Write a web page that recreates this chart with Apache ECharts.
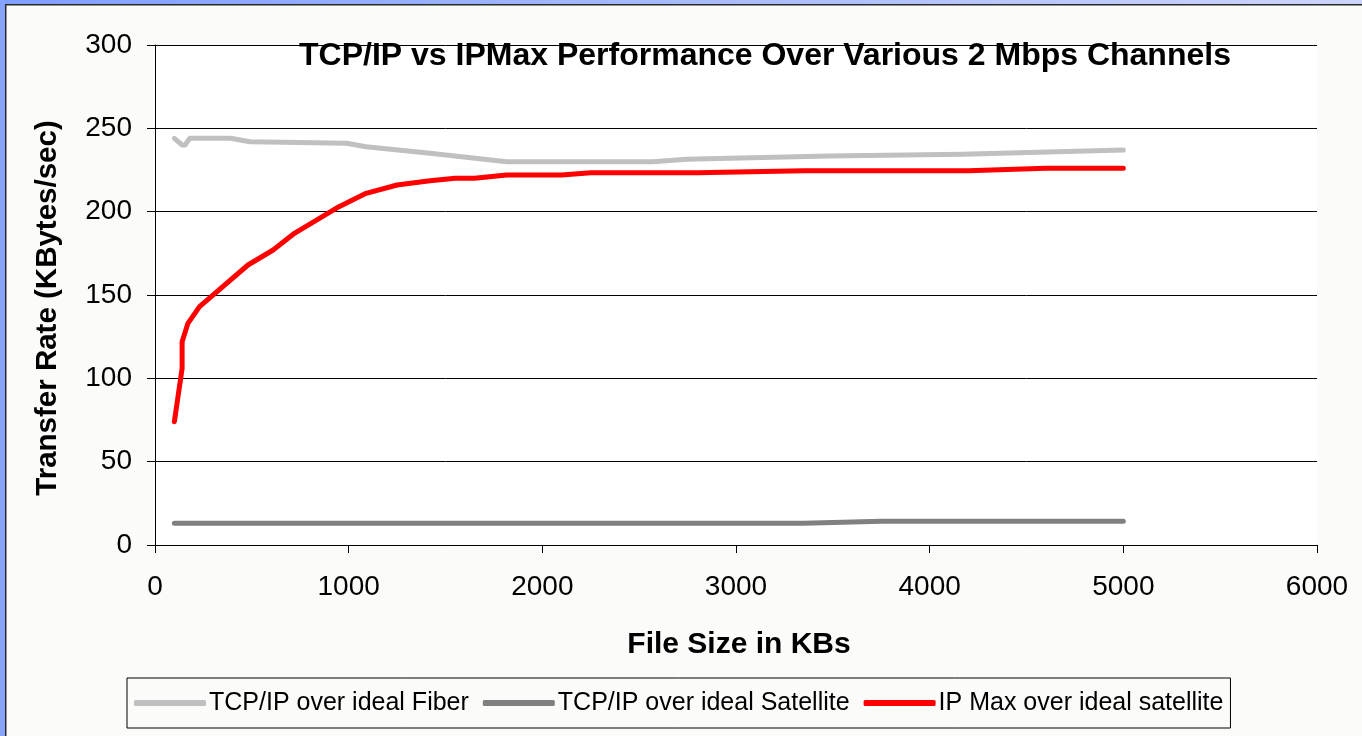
<!DOCTYPE html>
<html>
<head>
<meta charset="utf-8">
<script src="https://cdn.jsdelivr.net/npm/echarts@6/dist/echarts.min.js"></script>
<style>
  html, body { margin: 0; padding: 0; background: #fbfbf9; }
  #chart { width: 1362px; height: 736px; }
</style>
</head>
<body>
<div id="chart"></div>
<script>
// file size (KB) / transfer rate (KBytes/sec)
var fiberX = [100, 140, 155, 180, 390, 490, 990, 1090, 1420, 1816, 2570, 2745, 3480, 4170, 5000];
var fiberY = [244, 240, 240, 244, 244, 242, 241, 239, 235, 230, 230, 231.4, 233.4, 234.5, 237];

var satX = [100, 3350, 3750, 5000];
var satY = [13, 13, 14.3, 14.3];

var ipmaxX = [100, 140, 140, 170, 230, 480, 610, 720, 950, 1090, 1250, 1420, 1550, 1650, 1816, 2100, 2250, 2800, 3350, 4200, 4600, 5000];
var ipmaxY = [74, 106, 122, 133, 143, 168, 177, 187, 203, 211, 216, 218.5, 220, 220, 222, 222, 223.4, 223.4, 224.5, 224.5, 226, 226];

var seriesNames = ['TCP/IP over ideal Fiber', 'TCP/IP over ideal Satellite', 'IP Max over ideal satellite'];
var seriesColors = ['#c0c0c0', '#808080', '#ff0000'];

function pairs(xs, ys) {
    return xs.map(function(x, i) { return [x, ys[i]]; });
}

var font = 'Liberation Sans, Arial, sans-serif';
var chart = echarts.init(document.getElementById('chart'));

var lines = [pairs(fiberX, fiberY), pairs(satX, satY), pairs(ipmaxX, ipmaxY)];

chart.setOption({
    backgroundColor: '#fbfbf9',
    animation: false,
    title: {
        text: 'TCP/IP vs IPMax Performance Over Various 2 Mbps Channels',
        left: 765,
        top: 40,
        padding: 0,
        textAlign: 'center',
        textStyle: { fontFamily: font, fontSize: 32, fontWeight: 'bold', color: '#000' }
    },
    graphic: [
        { type: 'rect', shape: { x: 0, y: 0, width: 1362, height: 4 }, silent: true,
          style: { fill: new echarts.graphic.LinearGradient(0, 0, 1, 0, [
              { offset: 0, color: '#7f9fff' }, { offset: 1, color: '#cdd4fb' }]) } },
        { type: 'rect', shape: { x: 0, y: 0, width: 5, height: 736 }, silent: true,
          style: { fill: '#86a3ff' } },
        { type: 'rect', shape: { x: 5, y: 4, width: 1357, height: 1.5 }, silent: true,
          style: { fill: '#2a2a2a' } },
        { type: 'rect', shape: { x: 5, y: 4, width: 1.5, height: 732 }, silent: true,
          style: { fill: '#2a2a2a' } }
    ],
    legend: {
        left: 127,
        top: 678,
        padding: [12, 7, 12, 7],
        itemGap: 14,
        itemWidth: 72,
        itemHeight: 6,
        icon: 'roundRect',
        borderColor: '#000',
        borderWidth: 1,
        data: seriesNames,
        textStyle: { fontFamily: font, fontSize: 25, color: '#000', lineHeight: 26, padding: [0, 0, 0, -2] }
    },
    grid: {
        left: 155,
        right: 45,
        top: 45,
        bottom: 191,
        show: true,
        backgroundColor: '#ffffff',
        borderWidth: 0
    },
    xAxis: {
        type: 'value',
        min: 0,
        max: 6000,
        interval: 1000,
        name: 'File Size in KBs',
        nameLocation: 'middle',
        nameGap: 85,
        nameTextStyle: { fontFamily: font, fontSize: 30, fontWeight: 'bold', color: '#000', padding: [0, 0, 0, 6] },
        axisLine: { show: true, lineStyle: { color: '#000', width: 1 } },
        axisTick: { show: true, inside: false, length: 8, lineStyle: { color: '#000' } },
        axisLabel: { fontFamily: font, fontSize: 28, color: '#000', margin: 28,
                     formatter: function(v) { return String(v); } },
        splitLine: { show: false }
    },
    yAxis: {
        type: 'value',
        min: 0,
        max: 300,
        interval: 50,
        name: 'Transfer Rate (KBytes/sec)',
        nameLocation: 'middle',
        nameGap: 92,
        nameTextStyle: { fontFamily: font, fontSize: 29.5, fontWeight: 'bold', color: '#000', padding: [0, 26, 0, 0] },
        axisLine: { show: true, lineStyle: { color: '#000', width: 1 } },
        axisTick: { show: true, inside: false, length: 8, lineStyle: { color: '#000' } },
        axisLabel: { fontFamily: font, fontSize: 28, color: '#000', margin: 23 },
        splitLine: { show: true, lineStyle: { color: '#000', width: 1 } }
    },
    series: lines.map(function(d, i) {
        return {
            name: seriesNames[i],
            type: 'line',
            data: d,
            symbol: 'none',
            color: seriesColors[i],
            lineStyle: { width: 5, color: seriesColors[i], cap: 'round', join: 'round' },
            z: i === 2 ? 3 : 2
        };
    })
});
</script>
</body>
</html>
